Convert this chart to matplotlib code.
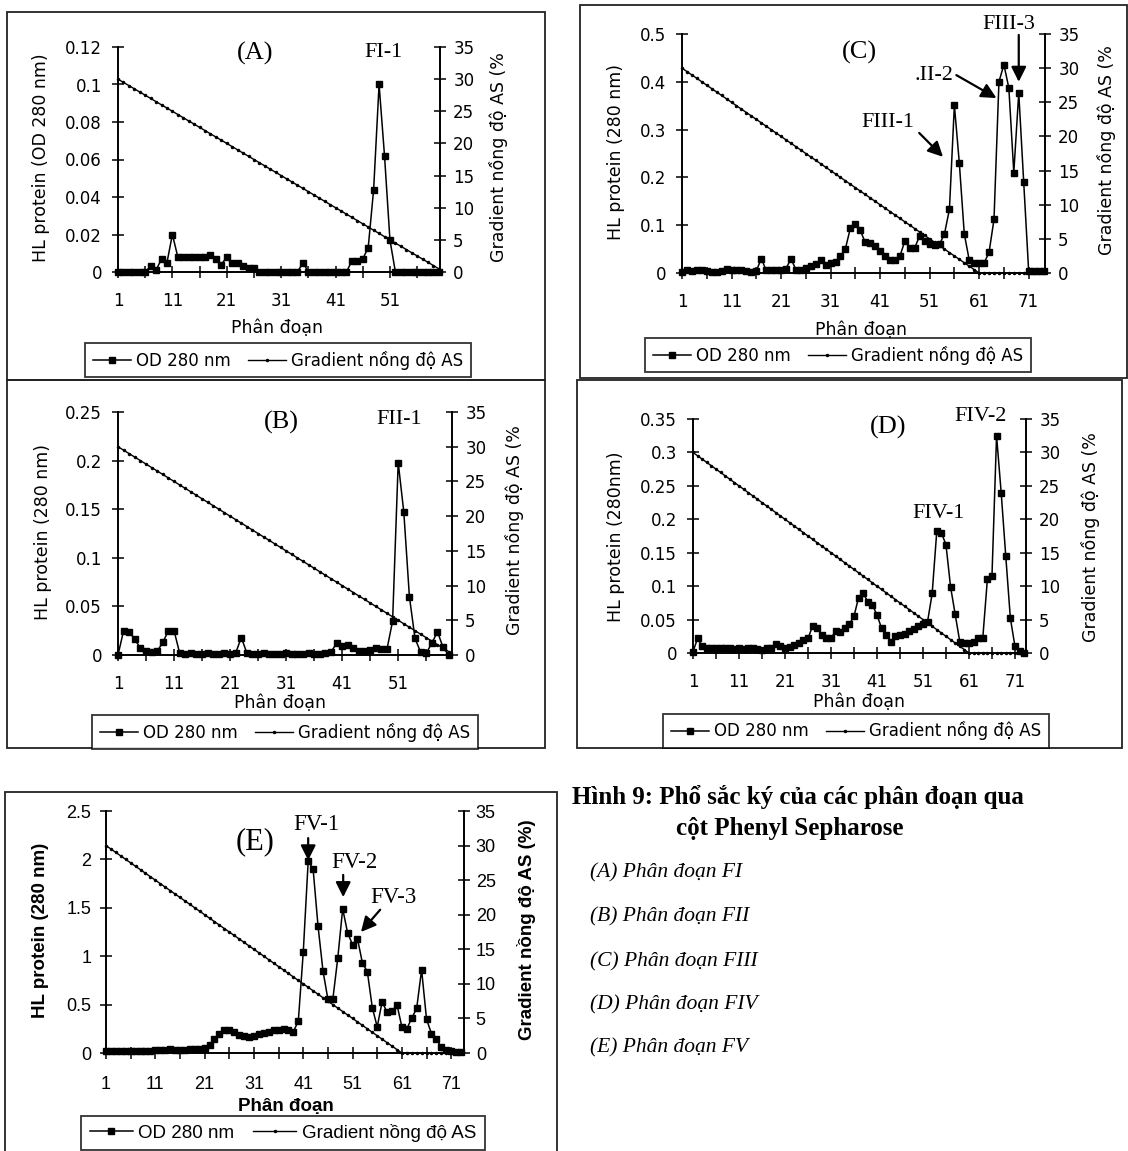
import numpy as np
import matplotlib
matplotlib.use("Agg")
import matplotlib.pyplot as plt
from matplotlib.lines import Line2D
from matplotlib.patches import Rectangle

W, H = 1128, 1151

# --- so lieu doc tu hinh ---
# gradient nong do AS (%) tren truc phai: 30 -> 0, buoc 0.5 moi phan doan
gradient_ramp = [30.0, 29.5, 29.0, 28.5, 28.0, 27.5, 27.0, 26.5, 26.0, 25.5,
                 25.0, 24.5, 24.0, 23.5, 23.0, 22.5, 22.0, 21.5, 21.0, 20.5,
                 20.0, 19.5, 19.0, 18.5, 18.0, 17.5, 17.0, 16.5, 16.0, 15.5,
                 15.0, 14.5, 14.0, 13.5, 13.0, 12.5, 12.0, 11.5, 11.0, 10.5,
                 10.0, 9.5, 9.0, 8.5, 8.0, 7.5, 7.0, 6.5, 6.0, 5.5,
                 5.0, 4.5, 4.0, 3.5, 3.0, 2.5, 2.0, 1.5, 1.0, 0.5, 0.0]

# (A) phan doan FI - 60 phan doan
od_A = [0, 0, 0, 0, 0, 0, 0.003, 0.001, 0.007, 0.005,
        0.02, 0.008, 0.008, 0.008, 0.008, 0.008, 0.008, 0.009, 0.007, 0.004,
        0.008, 0.005, 0.005, 0.003, 0.002, 0.002, 0, 0, 0, 0,
        0, 0, 0, 0, 0.005, 0, 0, 0, 0, 0,
        0, 0, 0, 0.006, 0.006, 0.007, 0.013, 0.044, 0.1, 0.062,
        0.017, 0, 0, 0, 0, 0, 0, 0, 0, 0]
grad_A = gradient_ramp[:60]

# (B) phan doan FII - 60 phan doan
od_B = [0, 0.025, 0.024, 0.016, 0.007, 0.004, 0.003, 0.004, 0.013, 0.025,
        0.025, 0.002, 0.001, 0.002, 0.001, 0.001, 0.002, 0.001, 0.001, 0.002,
        0.001, 0.002, 0.018, 0.002, 0.001, 0.001, 0.002, 0.001, 0.001, 0.001,
        0.002, 0.001, 0.001, 0.001, 0.002, 0.001, 0.001, 0.002, 0.003, 0.012,
        0.009, 0.01, 0.007, 0.004, 0.004, 0.005, 0.007, 0.006, 0.006, 0.035,
        0.198, 0.147, 0.06, 0.017, 0.003, 0.002, 0.012, 0.024, 0.008, 0.0]
grad_B = gradient_ramp[:60]

# (C) phan doan FIII - 74 phan doan
od_C = [0.003, 0.006, 0.004, 0.006, 0.007, 0.004, 0.003, 0.003, 0.005, 0.009,
        0.007, 0.006, 0.007, 0.004, 0.003, 0.004, 0.03, 0.006, 0.006, 0.007,
        0.006, 0.009, 0.03, 0.007, 0.006, 0.01, 0.015, 0.018, 0.028, 0.016,
        0.02, 0.024, 0.035, 0.051, 0.094, 0.102, 0.089, 0.064, 0.062, 0.057,
        0.046, 0.035, 0.027, 0.027, 0.035, 0.067, 0.053, 0.053, 0.078, 0.067,
        0.06, 0.058, 0.06, 0.082, 0.133, 0.351, 0.23, 0.082, 0.027, 0.021,
        0.021, 0.021, 0.043, 0.112, 0.40, 0.436, 0.387, 0.21, 0.377, 0.19,
        0.004, 0.004, 0.004, 0.004]
grad_C = gradient_ramp + [0, 0, 0, 0, 0, 0, 0, 0, 0, 0, 0, 0, 0]

# (D) phan doan FIV - 73 phan doan
od_D = [0.002, 0.022, 0.01, 0.008, 0.008, 0.007, 0.008, 0.007, 0.008, 0.006,
        0.007, 0.006, 0.007, 0.008, 0.006, 0.005, 0.008, 0.007, 0.013, 0.011,
        0.008, 0.009, 0.012, 0.015, 0.02, 0.022, 0.04, 0.037, 0.027, 0.022,
        0.022, 0.033, 0.031, 0.037, 0.043, 0.055, 0.083, 0.089, 0.077, 0.072,
        0.057, 0.037, 0.027, 0.017, 0.026, 0.027, 0.028, 0.033, 0.036, 0.04,
        0.043, 0.047, 0.089, 0.182, 0.18, 0.162, 0.099, 0.058, 0.017, 0.015,
        0.015, 0.017, 0.022, 0.022, 0.11, 0.115, 0.325, 0.24, 0.145, 0.052,
        0.01, 0.003, 0]
grad_D = gradient_ramp + [0, 0, 0, 0, 0, 0, 0, 0, 0, 0, 0, 0]

# (E) phan doan FV - 73 phan doan
od_E = [0.017, 0.02, 0.02, 0.025, 0.02, 0.02, 0.02, 0.02, 0.022, 0.025,
        0.03, 0.03, 0.035, 0.04, 0.035, 0.035, 0.035, 0.04, 0.045, 0.045,
        0.05, 0.085, 0.144, 0.2, 0.233, 0.233, 0.212, 0.19, 0.18, 0.17,
        0.178, 0.2, 0.21, 0.22, 0.233, 0.24, 0.246, 0.24, 0.22, 0.33,
        1.04, 1.98, 1.9, 1.31, 0.85, 0.555, 0.555, 0.98, 1.49, 1.24,
        1.12, 1.18, 0.93, 0.84, 0.47, 0.27, 0.53, 0.42, 0.43, 0.5,
        0.27, 0.25, 0.36, 0.46, 0.86, 0.35, 0.2, 0.14, 0.06, 0.03,
        0.02, 0.015, 0.01]
grad_E = gradient_ramp + [0, 0, 0, 0, 0, 0, 0, 0, 0, 0, 0, 0]

legend_labels = ["OD 280 nm", "Gradient nồng độ AS"]
caption_title = ["Hình 9: Phổ sắc ký của các phân đoạn qua", "cột Phenyl Sepharose"]
caption_items = ["(A) Phân đoạn FI", "(B) Phân đoạn FII", "(C) Phân đoạn FIII",
                 "(D) Phân đoạn FIV", "(E) Phân đoạn FV"]

SANS = "DejaVu Sans"
ARIAL = "Liberation Sans"
SERIF = "Liberation Serif"

fig = plt.figure(figsize=(W / 100, H / 100), dpi=100)


def px_box(x0, y0, x1, y1):
    return [x0 / W, 1 - y1 / H, (x1 - x0) / W, (y1 - y0) / H]


def ftext(x, y, s, **kw):
    fig.text(x / W, 1 - y / H, s, **kw)


# nen va khung cac o hinh (toa do pixel)
bg = fig.add_axes([0, 0, 1, 1])
bg.set_xlim(0, W)
bg.set_ylim(H, 0)
bg.axis("off")
for (x0, y0, x1, y1) in [(7, 12, 545, 380), (7, 380, 545, 748),
                         (580, 5, 1127, 378), (577, 380, 1122, 748),
                         (5, 792, 557, 1152)]:
    bg.add_patch(Rectangle((x0, y0), x1 - x0, y1 - y0, fill=False,
                           edgecolor="#222222", lw=1.3))


def ve_panel(box, od, grad, xmax, ymax, ystep, font, fs, bold=False,
             ms=4.0, xpad=10, ypad=7, rpad=5):
    ax = fig.add_axes(px_box(*box))
    ax.patch.set_visible(False)
    ax2 = ax.twinx()
    x_od = np.arange(1, len(od) + 1)
    x_gr = np.arange(1, len(grad) + 1)
    ax2.plot(x_gr, grad, color="black", lw=1.0, marker=".", ms=3,
             clip_on=False)
    ax.plot(x_od, od, color="black", lw=1.1, marker="s", ms=ms,
            clip_on=False, zorder=3)
    ax.set_zorder(ax2.get_zorder() + 1)
    ax.set_xlim(1, xmax)
    ax.set_ylim(0, ymax)
    ax2.set_ylim(0, 35)
    xt = list(range(1, int(xmax) + 1, 5))
    ax.set_xticks(xt)
    ax.set_xticklabels([str(t) if (t - 1) % 10 == 0 else "" for t in xt])
    yt = np.round(np.arange(0, ymax + ystep / 2, ystep), 3)
    ax.set_yticks(yt)
    ax.set_yticklabels([f"{v:g}" for v in yt])
    ax2.set_yticks(range(0, 36, 5))
    for a in (ax, ax2):
        a.spines["top"].set_visible(False)
        for s in a.spines.values():
            s.set_linewidth(1.2)
        a.tick_params(direction="inout", length=9, width=1.1, labelsize=fs)
    ax.tick_params(axis="x", pad=xpad)
    ax.tick_params(axis="y", pad=ypad)
    ax2.tick_params(axis="y", pad=rpad)
    for lab in ax.get_xticklabels() + ax.get_yticklabels() + ax2.get_yticklabels():
        lab.set_fontfamily(font)
    return ax, ax2


def chu_truc(ylab_xy, ylab, rlab_xy, rlab, xlab_xy, font, fs, weight="normal"):
    ftext(*ylab_xy, ylab, rotation=90, ha="center", va="center",
          family=font, fontsize=fs, fontweight=weight)
    ftext(*rlab_xy, rlab, rotation=90, ha="center", va="center",
          family=font, fontsize=fs, fontweight=weight)
    ftext(*xlab_xy, "Phân đoạn", ha="center", va="center",
          family=font, fontsize=fs, fontweight=weight)


def chu_thich(center, font, fs, ms=4.0):
    handles = [Line2D([], [], color="black", lw=1.1, marker="s", ms=ms),
               Line2D([], [], color="black", lw=1.0, marker=".", ms=3)]
    leg = fig.legend(handles, legend_labels, loc="center",
                     bbox_to_anchor=(center[0] / W, 1 - center[1] / H),
                     ncol=2, frameon=True, fancybox=False, edgecolor="black",
                     prop={"family": font, "size": fs}, handlelength=2.3,
                     handletextpad=0.3, columnspacing=1.0, borderpad=0.45,
                     markerscale=1.0)
    leg.get_frame().set_linewidth(1.3)


def mui_ten(ax, tail, tip):
    ax.annotate("", xy=tip, xytext=tail,
                arrowprops=dict(arrowstyle="-|>,head_length=0.9,head_width=0.45",
                                color="black", lw=1.6, shrinkA=0, shrinkB=0),
                annotation_clip=False)


# ---------- (A) ----------
ax, ax2 = ve_panel((118, 47, 440, 272), od_A, grad_A, 60.2, 0.12, 0.02, SANS, 12)
chu_truc((41, 158), "HL protein (OD 280 nm)", (498, 157),
         "Gradient nồng độ AS (%", (277, 328), SANS, 12.5)
chu_thich((278, 360), SANS, 12)
ax.text(26.2, 0.1165, "(A)", family=SERIF, fontsize=19, ha="center", va="center")
ax.text(49.8, 0.117, "FI-1", family=SERIF, fontsize=16, ha="center", va="center")

# ---------- (B) ----------
ax, ax2 = ve_panel((118, 412, 452, 655), od_B, grad_B, 60.6, 0.25, 0.05, SANS, 12)
chu_truc((43, 532), "HL protein (280 nm)", (514, 530),
         "Gradient nồng độ AS (%", (280, 703), SANS, 12.5)
chu_thich((285, 732), SANS, 12)
ax.text(30.1, 0.239, "(B)", family=SERIF, fontsize=19, ha="center", va="center")
ax.text(51.2, 0.242, "FII-1", family=SERIF, fontsize=16, ha="center", va="center")

# ---------- (C) ----------
ax, ax2 = ve_panel((682, 34, 1045, 273), od_C, grad_C, 74.3, 0.5, 0.1, SANS, 12)
chu_truc((616, 152), "HL protein (280 nm)", (1106, 150),
         "Gradient nồng độ AS (%", (861, 330), SANS, 12.5)
chu_thich((838, 355), SANS, 12)
ax.text(36.9, 0.462, "(C)", family=SERIF, fontsize=19, ha="center", va="center")
ax.text(42.6, 0.314, "FIII-1", family=SERIF, fontsize=16, ha="center", va="center")
ax.text(51.9, 0.414, ".II-2", family=SERIF, fontsize=16, ha="center", va="center")
ax.text(66.9, 0.519, "FIII-3", family=SERIF, fontsize=16, ha="center", va="center",
        clip_on=False)
mui_ten(ax, (48.9, 0.293), (53.7, 0.243))
mui_ten(ax, (56.4, 0.414), (64.5, 0.366))
mui_ten(ax, (69.0, 0.498), (69.0, 0.40))

# ---------- (D) ----------
ax, ax2 = ve_panel((693, 419, 1026, 653), od_D, grad_D, 73.4, 0.35, 0.05, SANS, 12)
chu_truc((616, 537), "HL protein (280nm)", (1091, 537),
         "Gradient nồng độ AS (%", (859, 702), SANS, 12.5)
chu_thich((856, 731), SANS, 12)
ax.text(43.4, 0.338, "(D)", family=SERIF, fontsize=19, ha="center", va="center")
ax.text(54.3, 0.209, "FIV-1", family=SERIF, fontsize=16, ha="center", va="center")
ax.text(63.6, 0.353, "FIV-2", family=SERIF, fontsize=16, ha="center", va="center")

# ---------- (E) ----------
ax, ax2 = ve_panel((106, 811, 464, 1053), od_E, grad_E, 73.6, 2.5, 0.5, ARIAL, 13,
                   ms=4.5, xpad=12, ypad=6, rpad=4)
chu_truc((41, 930), "HL protein (280 nm)", (527, 930),
         "Gradient nồng độ AS (%)", (286, 1107), ARIAL, 13.5, weight="bold")
chu_thich((283, 1133), ARIAL, 13.5, ms=4.5)
ax.text(31.2, 2.18, "(E)", family=SERIF, fontsize=22, ha="center", va="center")
ax.text(43.6, 2.36, "FV-1", family=SERIF, fontsize=16.5, ha="center", va="center")
ax.text(51.3, 1.97, "FV-2", family=SERIF, fontsize=16.5, ha="center", va="center")
ax.text(59.2, 1.61, "FV-3", family=SERIF, fontsize=16.5, ha="center", va="center")
mui_ten(ax, (42.0, 2.22), (42.0, 1.99))
mui_ten(ax, (49.1, 1.84), (49.1, 1.61))
mui_ten(ax, (56.6, 1.48), (52.7, 1.25))

# ---------- chu thich hinh ----------
ftext(572, 797, caption_title[0], family=SERIF, fontsize=18, fontweight="bold",
      ha="left", va="center")
ftext(676, 829, caption_title[1], family=SERIF, fontsize=18, fontweight="bold",
      ha="left", va="center")
for yy, s in zip([873, 917, 962, 1005, 1048], caption_items):
    ftext(590, yy, s, family=SERIF, fontsize=15.5, style="italic",
          ha="left", va="center")

fig.savefig("out.png", dpi=100)
